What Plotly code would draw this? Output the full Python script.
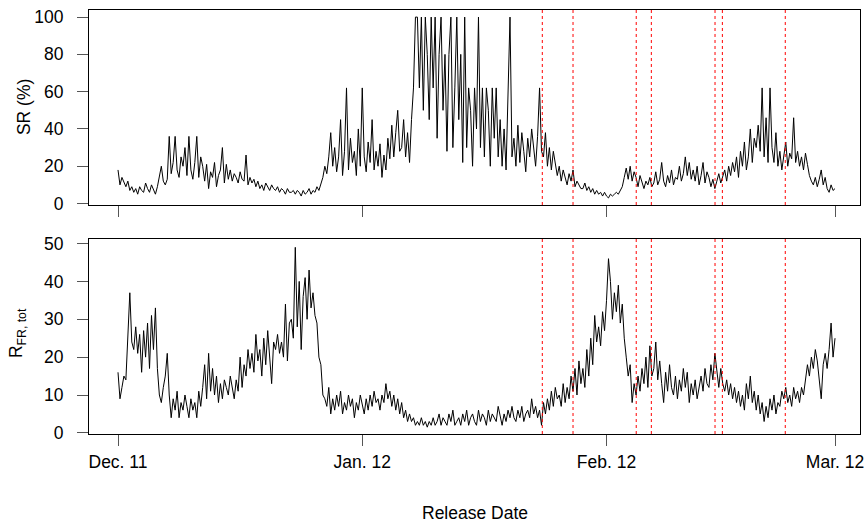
import plotly.graph_objects as go
import pandas as pd

# SR (%) values, 4 per day starting 2011-12-01 (6-hour steps)
sr_values = [
    18, 10, 14, 11,   9, 12, 7, 9,   6, 8, 5, 9,   7, 6, 11, 8,   6, 10, 7, 5,
    9, 14, 20, 12,   10, 13, 36, 16,   22, 36, 18, 14,   25, 20, 30, 15,   36, 18, 13, 22,
    36, 14, 25, 20,   12, 21, 8, 17,   14, 22, 9, 15,   18, 30, 11, 21,   13, 18, 12, 16,
    14, 11, 17, 13,   12, 26, 10, 14,   11, 13, 9, 12,   8, 10, 7, 11,   9, 7, 10, 8,
    7, 9, 6, 8,   7, 5, 8, 6,   6, 7, 5, 7,   6, 4, 7, 5,   6, 8, 5, 7,
    6, 9, 7, 11,   14, 20, 16, 25,   38, 20, 30, 17,   25, 45, 15, 28,   62, 18, 35, 22,
    28, 15, 40, 20,   62, 25, 17, 33,   22, 45, 18, 28,   20, 32, 14, 26,   18, 35, 24, 42,
    25, 38, 50, 28,   30, 45, 25, 38,   22, 45, 62, 100,   100, 62, 100, 50,   100, 80, 45, 100,
    62, 100, 35, 80,   100, 50, 80, 28,   80, 100, 30, 62,   100, 45, 80, 22,   100, 30, 62, 50,
    20, 62, 40, 100,   30, 62, 25, 62,   50, 20, 62, 35,   62, 25, 45, 20,   40, 18, 62, 100,
    25, 35, 20, 42,   22, 38, 28, 17,   35, 25, 40, 30,   20, 36, 62, 28,   25, 38, 20, 30,
    18, 28, 22, 15,   20, 12, 18, 14,   10, 16, 12, 18,   9, 12, 10, 8,   8, 11, 7, 9,
    6, 8, 5, 7,   5, 6, 4, 6,   4, 3, 5, 4,   5, 6, 5, 7,   9, 14, 19, 13,
    20, 12, 17, 14,   9, 15, 11, 8,   12, 10, 14, 9,   11, 17, 10, 13,   22, 12, 9, 15,
    11, 18, 10, 14,   13, 20, 12, 16,   25, 15, 22, 13,   18, 12, 20, 10,   15, 22, 11, 17,
    14, 9, 13, 8,   12, 16, 11, 14,   18, 12, 20, 15,   22, 17, 25, 14,   28, 20, 33, 18,
    25, 40, 22, 35,   30, 42, 28, 62,   25, 46, 22, 62,   30, 22, 38, 20,   28, 18, 25, 33,
    20, 27, 24, 46,   22, 28, 20, 25,   18, 27, 21, 15,   12, 10, 14, 9,   13, 18, 10, 14,
    8, 6, 10, 7,   8,
]

# R_FR,tot values, same time steps
rfr_values = [
    16, 9, 12, 15,   14, 26, 37, 24,   22, 28, 21, 26,   16, 27, 20, 29,   17, 31, 22, 33,
    17, 10, 8, 12,   15, 21, 10, 4,   9, 6, 11, 4,   8, 6, 10, 7,   4, 9, 6, 8,
    4, 11, 7, 12,   18, 9, 21, 11,   17, 10, 15, 8,   13, 9, 14, 12,   10, 15, 12, 9,
    14, 11, 20, 12,   18, 15, 22, 17,   21, 16, 26, 19,   22, 15, 25, 18,   27, 20, 13, 24,
    22, 26, 21, 24,   20, 34, 19, 29,   30, 25, 49, 28,   40, 22, 36, 41,   30, 43, 33, 37,
    31, 29, 20, 18,   10, 9, 7, 12,   5, 9, 6, 10,   7, 11, 5, 8,   6, 10, 7, 9,
    4, 8, 6, 10,   7, 5, 9, 6,   10, 7, 11, 8,   9, 6, 10, 8,   13, 9, 11, 7,
    10, 6, 9, 5,   8, 4, 6, 3,   5, 3, 4, 2,   3, 2, 4, 2,   3, 1.5, 3, 2,
    4, 2, 3, 5,   2, 4, 3, 2,   5, 3, 6, 2,   3, 4, 2, 5,   3, 6, 2, 4,
    5, 3, 2, 6,   3, 5, 4, 2,   6, 3, 5, 4,   3, 7, 4, 2,   5, 3, 6, 4,
    7, 4, 3, 6,   4, 7, 3, 5,   6, 4, 9, 5,   7, 4, 6, 2,   8, 5, 9, 6,
    11, 7, 12, 9,   10, 7, 13, 8,   12, 9, 15, 11,   17, 10, 19, 13,   17, 12, 22, 15,
    25, 18, 31, 24,   28, 23, 32, 27,   35, 46, 40, 30,   37, 32, 39, 29,   34, 25, 20, 15,
    18, 8, 13, 10,   15, 11, 17, 13,   20, 12, 23, 15,   17, 24, 14, 19,   13, 8, 16, 11,
    18, 12, 10, 15,   9, 14, 11, 17,   12, 16, 8, 13,   10, 14, 9, 12,   15, 11, 17, 13,
    12, 18, 14, 21,   16, 12, 17, 13,   11, 14, 10, 13,   9, 12, 8, 11,   7, 10, 6, 13,
    9, 15, 8, 11,   6, 10, 5, 8,   3, 7, 4, 9,   6, 10, 5, 8,   7, 11, 9, 12,
    8, 10, 7, 12,   9, 11, 8, 12,   10, 14, 18, 15,   20, 17, 22, 19,   13, 9, 18, 21,
    17, 22, 29, 20,   25,
]

event_dates = ["2012-01-23 20:24", "2012-01-27 18:00", "2012-02-04 18:30",
               "2012-02-06 16:30", "2012-02-14 18:30", "2012-02-15 16:50",
               "2012-02-23 16:30"]

month_ticks = ["2011-12-01", "2012-01-01", "2012-02-01", "2012-03-01"]
month_labels = ["Dec. 11", "Jan. 12", "Feb. 12", "Mar. 12"]
sr_ticks = [0, 20, 40, 60, 80, 100]
rfr_ticks = [0, 10, 20, 30, 40, 50]

times = pd.date_range("2011-12-01", periods=len(sr_values), freq="6h")

FONT = "Liberation Sans, Arial, sans-serif"
FS = 17.5

fig = go.Figure()
fig.add_trace(go.Scatter(x=times, y=sr_values, mode="lines",
                         line=dict(color="black", width=1), xaxis="x", yaxis="y",
                         showlegend=False, hoverinfo="skip"))
fig.add_trace(go.Scatter(x=times, y=rfr_values, mode="lines",
                         line=dict(color="black", width=1), xaxis="x2", yaxis="y2",
                         showlegend=False, hoverinfo="skip"))

shapes = []
for d in event_dates:
    for xr, yr in (("x", "y domain"), ("x2", "y2 domain")):
        shapes.append(dict(type="line", xref=xr, yref=yr, x0=d, x1=d, y0=0, y1=1,
                           line=dict(color="red", width=1, dash="dot")))

xrange = ["2011-11-27 07:40", "2012-03-04 04:05"]
common_axis = dict(showline=True, mirror=True, linecolor="black", linewidth=1,
                   showgrid=False, zeroline=False, ticks="outside", ticklen=11,
                   tickwidth=1, tickcolor="#555555", automargin=False,
                   tickfont=dict(family=FONT, size=FS, color="black"))

fig.update_layout(
    width=866, height=524,
    margin=dict(l=89, r=6, t=10, b=90, autoexpand=False),
    paper_bgcolor="white", plot_bgcolor="white",
    font=dict(family=FONT, size=FS, color="black"),
    shapes=shapes,
    xaxis=dict(domain=[0, 1], anchor="y", range=xrange, tickvals=month_ticks,
               ticktext=month_labels, showticklabels=False, **common_axis),
    yaxis=dict(domain=[0.5401, 1], anchor="x", range=[-0.8, 103.8], tickvals=sr_ticks,
               ticklabelstandoff=10, **common_axis),
    xaxis2=dict(domain=[0, 1], anchor="y2", range=xrange, tickvals=month_ticks,
                ticktext=month_labels, ticklabelstandoff=1, **common_axis),
    yaxis2=dict(domain=[0, 0.4599], anchor="x2", range=[-0.3, 51.2], tickvals=rfr_ticks,
                ticklabelstandoff=10, **common_axis),
    annotations=[
        dict(text="Release Date", xref="paper", yref="paper", x=0.5, y=-0.186,
             xanchor="center", yanchor="middle", showarrow=False,
             font=dict(family=FONT, size=FS, color="black")),
        dict(text="SR (%)", xref="paper", yref="paper", x=-0.0843, y=0.771,
             xanchor="center", yanchor="middle", textangle=-90, showarrow=False,
             font=dict(family=FONT, size=FS, color="black")),
        dict(text="R<sub>FR, tot</sub>", xref="paper", yref="paper", x=-0.0934, y=0.238,
             xanchor="center", yanchor="middle", textangle=-90, showarrow=False,
             font=dict(family=FONT, size=FS, color="black")),
    ],
)

fig.write_html("out.html", config={"displayModeBar": False},
               post_script="document.body.style.margin='0px';")
